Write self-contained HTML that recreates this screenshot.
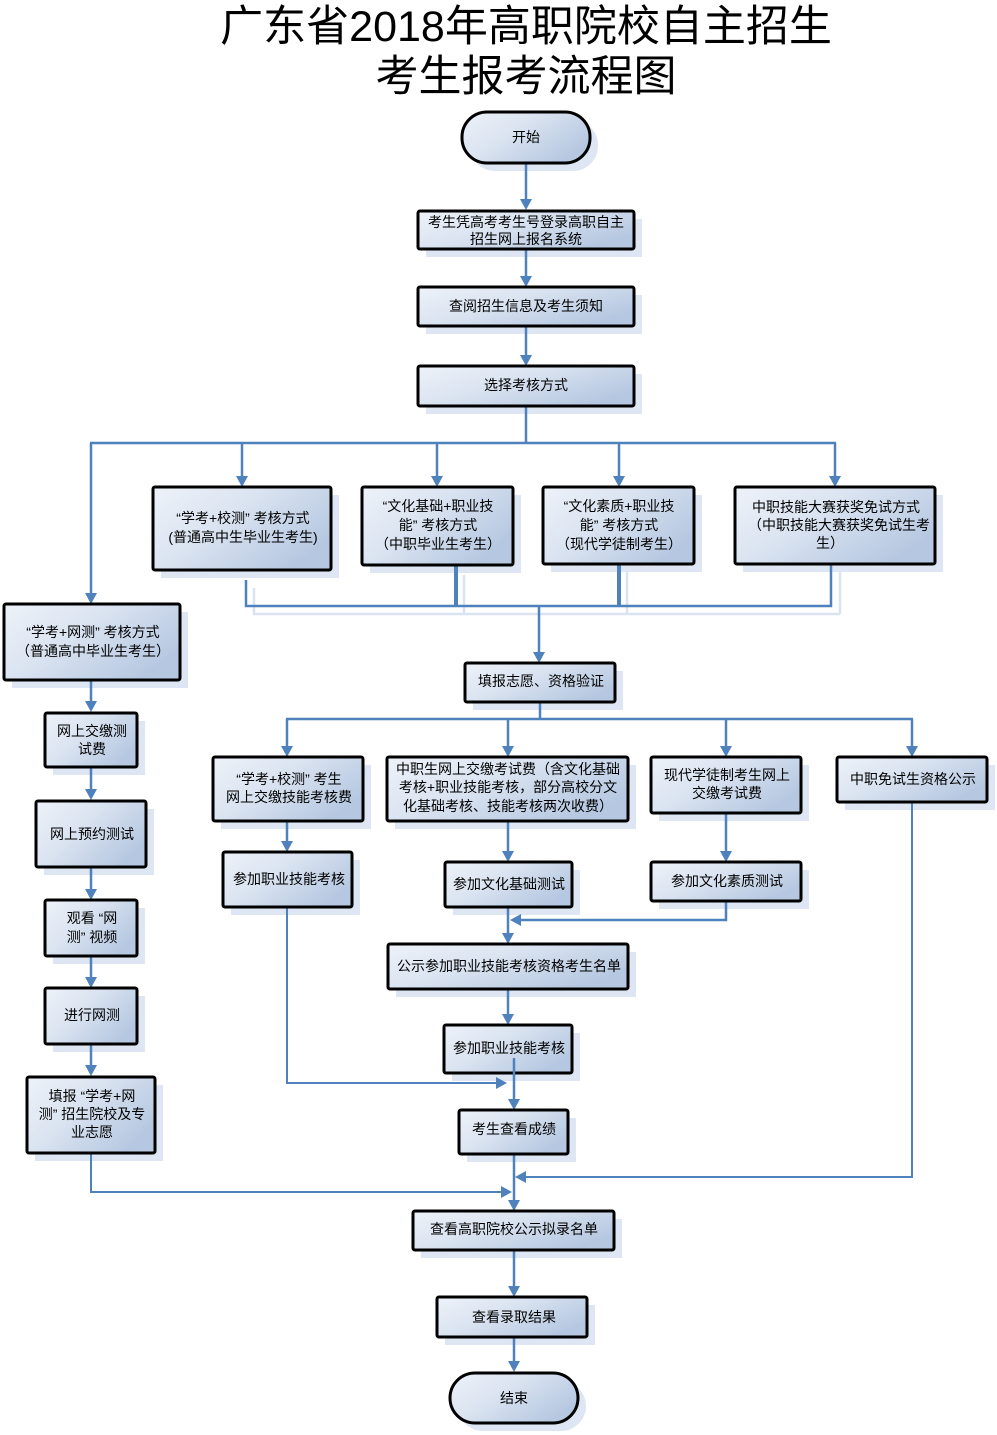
<!DOCTYPE html>
<html><head><meta charset="utf-8">
<style>
html,body{margin:0;padding:0;background:#fff;}
body{width:997px;height:1435px;overflow:hidden;position:relative;}
svg{position:absolute;left:0;top:0;}
text{font-family:"Liberation Sans","Noto Sans CJK SC",sans-serif;font-size:14px;fill:#000;text-anchor:middle;dominant-baseline:central;}
.title{font-size:43px;}
.sh{fill:#dde6f2;}
.bx{fill:url(#g);stroke:#000;stroke-width:3;}
.ln{stroke:#4f81bd;stroke-width:2.5;fill:none;}
.lt{stroke:#4f81bd;stroke-width:2;fill:none;}
.lk{stroke:#4f81bd;stroke-width:4;fill:none;}
.ls{stroke:#d9e3f1;stroke-width:2.5;fill:none;}
.ar{fill:#4f81bd;}
</style></head>
<body>
<svg width="997" height="1435" viewBox="0 0 997 1435" xmlns="http://www.w3.org/2000/svg">
<defs>
<linearGradient id="g" x1="0" y1="0" x2="1" y2="0.6">
<stop offset="0" stop-color="#eef2f9"/>
<stop offset="0.45" stop-color="#dbe4f1"/>
<stop offset="1" stop-color="#b6c8e1"/>
</linearGradient>
</defs>

<!-- Title -->
<text class="title" x="526" y="27">广东省2018年高职院校自主招生</text>
<text class="title" x="526" y="77">考生报考流程图</text>

<!-- connector shadows -->
<polyline class="ls" points="254,588 254,614 840,614"/>
<line class="ls" x1="464" y1="575" x2="464" y2="614"/>
<line class="ls" x1="627" y1="572" x2="627" y2="614"/>
<line class="ls" x1="840" y1="572" x2="840" y2="614"/>

<!-- shadows -->
<rect class="sh" x="470" y="120" width="128" height="51" rx="25"/>
<rect class="sh" x="426" y="219" width="216" height="38"/>
<rect class="sh" x="426" y="295" width="216" height="39"/>
<rect class="sh" x="426" y="374" width="216" height="40"/>
<rect class="sh" x="161" y="495" width="178" height="83"/>
<rect class="sh" x="370" y="495" width="151" height="78"/>
<rect class="sh" x="551" y="495" width="151" height="77"/>
<rect class="sh" x="743" y="495" width="200" height="77"/>
<rect class="sh" x="12" y="612" width="176" height="76"/>
<rect class="sh" x="53" y="721" width="92" height="54"/>
<rect class="sh" x="44" y="809" width="110" height="66"/>
<rect class="sh" x="53" y="908" width="92" height="56"/>
<rect class="sh" x="53" y="996" width="92" height="56"/>
<rect class="sh" x="35" y="1085" width="128" height="76"/>
<rect class="sh" x="473" y="671" width="150" height="39"/>
<rect class="sh" x="221" y="765" width="150" height="64"/>
<rect class="sh" x="395" y="765" width="241" height="64"/>
<rect class="sh" x="659" y="765" width="150" height="56"/>
<rect class="sh" x="845" y="765" width="150" height="45"/>
<rect class="sh" x="231" y="860" width="129" height="55"/>
<rect class="sh" x="453" y="870" width="127" height="45"/>
<rect class="sh" x="659" y="870" width="150" height="39"/>
<rect class="sh" x="396" y="952" width="240" height="45"/>
<rect class="sh" x="452" y="1033" width="128" height="48"/>
<rect class="sh" x="467" y="1118" width="109" height="44"/>
<rect class="sh" x="421" y="1219" width="201" height="39"/>
<rect class="sh" x="445" y="1305" width="150" height="40"/>
<rect class="sh" x="458" y="1381" width="128" height="50" rx="25"/>

<!-- connectors -->
<line class="ln" x1="526" y1="163" x2="526" y2="200"/>
<line class="ln" x1="526" y1="249" x2="526" y2="277"/>
<line class="ln" x1="526" y1="326" x2="526" y2="356"/>
<line class="ln" x1="526" y1="406" x2="526" y2="443"/>
<line class="ln" x1="90" y1="443" x2="836" y2="443"/>
<line class="ln" x1="91" y1="443" x2="91" y2="594"/>
<line class="ln" x1="242" y1="443" x2="242" y2="477"/>
<line class="ln" x1="437" y1="443" x2="437" y2="477"/>
<line class="ln" x1="619" y1="443" x2="619" y2="477"/>
<line class="ln" x1="835" y1="443" x2="835" y2="477"/>

<polyline class="ln" points="246,580 246,606 831,606 831,564"/>
<line class="lk" x1="456" y1="566" x2="456" y2="606"/>
<line class="lk" x1="619" y1="564" x2="619" y2="606"/>
<line class="ln" x1="539" y1="606" x2="539" y2="653"/>

<line class="ln" x1="540" y1="702" x2="540" y2="719"/>
<line class="ln" x1="286" y1="719" x2="913" y2="719"/>
<line class="ln" x1="287" y1="719" x2="287" y2="747"/>
<line class="ln" x1="508" y1="719" x2="508" y2="747"/>
<line class="ln" x1="726" y1="719" x2="726" y2="747"/>
<line class="ln" x1="912" y1="719" x2="912" y2="747"/>

<line class="ln" x1="287" y1="821" x2="287" y2="842"/>
<line class="ln" x1="508" y1="821" x2="508" y2="852"/>
<line class="ln" x1="726" y1="813" x2="726" y2="852"/>

<polyline class="ln" points="726,901 726,920 520,920"/>
<line class="ln" x1="508" y1="907" x2="508" y2="934"/>
<line class="ln" x1="508" y1="989" x2="508" y2="1015"/>
<line class="ln" x1="514" y1="1058" x2="514" y2="1100"/>
<polyline class="lt" points="287,907 287,1083 497,1083"/>

<line class="ln" x1="514" y1="1154" x2="514" y2="1201"/>
<polyline class="lt" points="912,802 912,1177 525,1177"/>
<polyline class="lt" points="91,1153 91,1192 502,1192"/>
<line class="ln" x1="514" y1="1250" x2="514" y2="1287"/>
<line class="ln" x1="514" y1="1337" x2="514" y2="1362"/>

<line class="ln" x1="91" y1="680" x2="91" y2="702"/>
<line class="ln" x1="91" y1="767" x2="91" y2="790"/>
<line class="ln" x1="91" y1="867" x2="91" y2="890"/>
<line class="ln" x1="91" y1="956" x2="91" y2="978"/>
<line class="ln" x1="91" y1="1044" x2="91" y2="1066"/>

<!-- arrowheads (down) -->
<g class="ar">
<polygon points="520,199 532,199 526,210"/>
<polygon points="520,276 532,276 526,287"/>
<polygon points="520,355 532,355 526,366"/>
<polygon points="85,593 97,593 91,604"/>
<polygon points="236,476 248,476 242,487"/>
<polygon points="431,476 443,476 437,487"/>
<polygon points="613,476 625,476 619,487"/>
<polygon points="829,476 841,476 835,487"/>
<polygon points="533,652 545,652 539,663"/>
<polygon points="281,746 293,746 287,757"/>
<polygon points="502,746 514,746 508,757"/>
<polygon points="720,746 732,746 726,757"/>
<polygon points="906,746 918,746 912,757"/>
<polygon points="281,841 293,841 287,852"/>
<polygon points="502,851 514,851 508,862"/>
<polygon points="720,851 732,851 726,862"/>
<polygon points="502,933 514,933 508,944"/>
<polygon points="502,1014 514,1014 508,1025"/>
<polygon points="508,1099 520,1099 514,1110"/>
<polygon points="508,1200 520,1200 514,1211"/>
<polygon points="508,1286 520,1286 514,1297"/>
<polygon points="508,1361 520,1361 514,1372"/>
<polygon points="85,701 97,701 91,712"/>
<polygon points="85,789 97,789 91,800"/>
<polygon points="85,889 97,889 91,900"/>
<polygon points="85,977 97,977 91,988"/>
<polygon points="85,1065 97,1065 91,1076"/>
<!-- left / right -->
<polygon points="510,920 521,914 521,926"/>
<polygon points="507,1083 496,1077 496,1089"/>
<polygon points="515,1177 526,1171 526,1183"/>
<polygon points="512,1192 501,1186 501,1198"/>
</g>

<!-- boxes -->
<rect class="bx" x="462" y="112" width="128" height="51" rx="25"/>
<rect class="bx" x="418" y="211" width="216" height="38" rx="2"/>
<rect class="bx" x="418" y="287" width="216" height="39" rx="2"/>
<rect class="bx" x="418" y="366" width="216" height="40" rx="2"/>
<rect class="bx" x="153" y="487" width="178" height="83" rx="2"/>
<rect class="bx" x="362" y="487" width="151" height="78" rx="2"/>
<rect class="bx" x="543" y="487" width="151" height="77" rx="2"/>
<rect class="bx" x="735" y="487" width="200" height="77" rx="2"/>
<rect class="bx" x="4" y="604" width="176" height="76" rx="2"/>
<rect class="bx" x="45" y="713" width="92" height="54" rx="2"/>
<rect class="bx" x="36" y="801" width="110" height="66" rx="2"/>
<rect class="bx" x="45" y="900" width="92" height="56" rx="2"/>
<rect class="bx" x="45" y="988" width="92" height="56" rx="2"/>
<rect class="bx" x="27" y="1077" width="128" height="76" rx="2"/>
<rect class="bx" x="465" y="663" width="150" height="39" rx="2"/>
<rect class="bx" x="213" y="757" width="150" height="64" rx="2"/>
<rect class="bx" x="387" y="757" width="241" height="64" rx="2"/>
<rect class="bx" x="651" y="757" width="150" height="56" rx="2"/>
<rect class="bx" x="837" y="757" width="150" height="45" rx="2"/>
<rect class="bx" x="223" y="852" width="129" height="55" rx="2"/>
<rect class="bx" x="445" y="862" width="127" height="45" rx="2"/>
<rect class="bx" x="651" y="862" width="150" height="39" rx="2"/>
<rect class="bx" x="388" y="944" width="240" height="45" rx="2"/>
<rect class="bx" x="444" y="1025" width="128" height="48" rx="2"/>
<rect class="bx" x="459" y="1110" width="109" height="44" rx="2"/>
<rect class="bx" x="413" y="1211" width="201" height="39" rx="2"/>
<rect class="bx" x="437" y="1297" width="150" height="40" rx="2"/>
<rect class="bx" x="450" y="1373" width="128" height="50" rx="25"/>

<!-- line drawn over box J -->
<line class="ln" x1="514" y1="1058" x2="514" y2="1075"/>

<!-- texts -->
<text x="526" y="137">开始</text>
<text x="526" y="222">考生凭高考考生号登录高职自主</text>
<text x="526" y="239">招生网上报名系统</text>
<text x="526" y="306">查阅招生信息及考生须知</text>
<text x="526" y="385">选择考核方式</text>

<text x="243" y="518">“学考+校测” 考核方式</text>
<text x="243" y="537">(普通高中生毕业生考生)</text>

<text x="438" y="506">“文化基础+职业技</text>
<text x="438" y="525">能” 考核方式</text>
<text x="438" y="544">（中职毕业生考生）</text>

<text x="619" y="506">“文化素质+职业技</text>
<text x="619" y="525">能” 考核方式</text>
<text x="619" y="544">（现代学徒制考生）</text>

<text x="836" y="507">中职技能大赛获奖免试方式</text>
<text x="839" y="525">（中职技能大赛获奖免试生考</text>
<text x="830" y="543">生）</text>

<text x="93" y="632">“学考+网测” 考核方式</text>
<text x="93" y="651">（普通高中毕业生考生）</text>

<text x="92" y="731">网上交缴测</text>
<text x="92" y="749">试费</text>
<text x="92" y="834">网上预约测试</text>
<text x="92" y="918">观看 “网</text>
<text x="92" y="937">测” 视频</text>
<text x="92" y="1015">进行网测</text>
<text x="92" y="1096">填报 “学考+网</text>
<text x="92" y="1114">测” 招生院校及专</text>
<text x="92" y="1132">业志愿</text>

<text x="541" y="681">填报志愿、资格验证</text>

<text x="289" y="779">“学考+校测” 考生</text>
<text x="289" y="797">网上交缴技能考核费</text>

<text x="508" y="769">中职生网上交缴考试费（含文化基础</text>
<text x="508" y="787">考核+职业技能考核，部分高校分文</text>
<text x="508" y="806">化基础考核、技能考核两次收费）</text>

<text x="727" y="775">现代学徒制考生网上</text>
<text x="727" y="793">交缴考试费</text>

<text x="913" y="779">中职免试生资格公示</text>

<text x="289" y="879">参加职业技能考核</text>
<text x="509" y="884">参加文化基础测试</text>
<text x="727" y="881">参加文化素质测试</text>
<text x="509" y="966">公示参加职业技能考核资格考生名单</text>
<text x="509" y="1048">参加职业技能考核</text>
<text x="514" y="1129">考生查看成绩</text>
<text x="514" y="1229">查看高职院校公示拟录名单</text>
<text x="514" y="1317">查看录取结果</text>
<text x="514" y="1398">结束</text>
</svg>
</body></html>
